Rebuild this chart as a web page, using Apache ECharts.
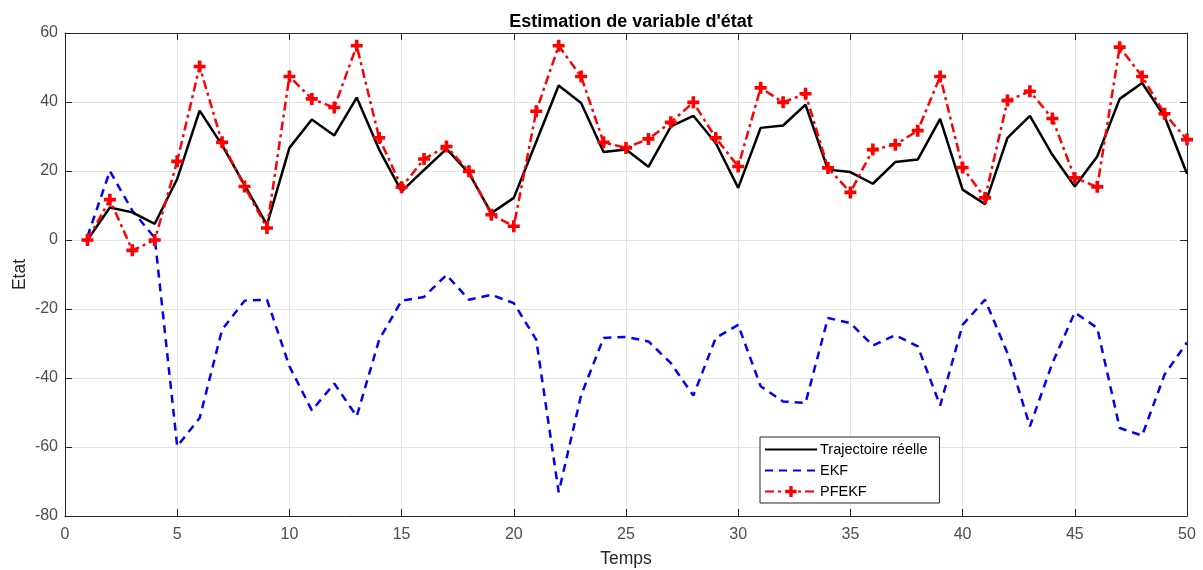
<!DOCTYPE html>
<html><head><meta charset="utf-8">
<script src="https://cdn.jsdelivr.net/npm/echarts@6/dist/echarts.min.js"></script>
<style>html,body{margin:0;padding:0;background:#fff}#c{width:1203px;height:570px}</style>
</head><body><div id="c"></div>
<script>
const temps = [1,2,3,4,5,6,7,8,9,10,11,12,13,14,15,16,17,18,19,20,21,22,23,24,25,26,27,28,29,30,31,32,33,34,35,36,37,38,39,40,41,42,43,44,45,46,47,48,49,50];
const reelle = [0,9.4,8.0,4.7,17.7,37.5,27.5,16,4.4,26.7,34.9,30.3,41.3,26.2,14.1,20.3,26.4,19.4,7.8,12.2,28.5,44.8,39.7,25.5,26.2,21.2,32.9,36.0,28.1,15.1,32.5,33.2,39.2,20.4,19.7,16.3,22.6,23.3,35.1,14.6,10.4,29.6,36.0,24.7,15.5,24.2,40.9,45.5,35.8,19.2];
const ekf = [1,20,8.5,0.6,-59.8,-51.6,-26,-17.6,-17.3,-36.6,-49.4,-41.6,-51.1,-28.9,-17.6,-16.5,-10.1,-17.3,-15.9,-18.3,-28.9,-73.1,-45,-28.4,-28.1,-29.4,-35.7,-45.1,-28.4,-24.6,-42.4,-46.8,-47.2,-22.6,-24.1,-30.6,-27.6,-30.8,-48,-24.6,-17.3,-32.8,-54,-35.7,-21,-25.5,-54.5,-56.7,-39,-29.7];
const pfekf = [0,11.7,-3.0,0,22.8,50.3,28.3,15.5,3.5,47.4,40.9,38.4,56.3,29.6,15.3,23.5,27.1,19.9,7.3,4.0,37.3,56.3,47.4,28.3,26.7,29.3,34.1,39.9,29.6,21.3,44.1,39.9,42.4,20.9,13.8,26.2,27.6,31.7,47.4,21.0,12.2,40.4,43.1,35.2,18.0,15.4,55.9,47.4,36.6,29.1];
const xTicks = {min:0, max:50, interval:5};
const yTicks = {min:-80, max:60, interval:20};
const names = ['Trajectoire réelle','EKF','PFEKF'];

const pair = arr => temps.map((t,i)=>[t,arr[i]]);
const plus = 'path://M3.5,0h3v3.5h3.5v3h-3.5v3.5h-3v-3.5h-3.5v-3h3.5z';
const axisCol = '#262626';
const FONT = 'Liberation Sans, Arial, sans-serif';
const labelStyle = {color:'#4d4d4d', fontSize:16, fontFamily:FONT};
const chart = echarts.init(document.getElementById('c'), null, {renderer:'canvas'});
chart.setOption({
  animation:false,
  backgroundColor:'#fff',
  title:{text:"Estimation de variable d'état", left:626, top:8, textAlign:'center',
    textStyle:{fontSize:18, fontWeight:'bold', color:'#000', fontFamily:FONT}},
  grid:{left:65, right:16, top:33, bottom:54, containLabel:false, outerBoundsMode:'none'},
  legend:{data:[
      {name:names[0], itemStyle:{opacity:0}},
      {name:names[1], itemStyle:{opacity:0}},
      {name:names[2]}
    ], orient:'vertical', left:760, top:437,
    backgroundColor:'#fff', borderColor:axisCol, borderWidth:1, borderRadius:0,
    padding:[5,12,4,4], itemWidth:52, itemHeight:14, itemGap:6,
    textStyle:{fontSize:14.5, color:'#000', fontFamily:FONT, padding:[0,0,0,-2]}},
  xAxis:[
    {type:'value', min:xTicks.min, max:xTicks.max, interval:xTicks.interval, position:'bottom',
     name:'Temps', nameLocation:'middle', nameGap:34, nameMoveOverlap:false, nameTextStyle:{fontSize:17.5, color:'#262626', fontFamily:FONT},
     axisLine:{onZero:false, lineStyle:{color:axisCol, width:1}}, axisTick:{inside:true, length:7, lineStyle:{color:axisCol}},
     axisLabel:Object.assign({margin:11}, labelStyle), splitLine:{show:true, lineStyle:{color:'#e3e3e3', width:1}}},
    {type:'value', min:xTicks.min, max:xTicks.max, interval:xTicks.interval, position:'top',
     axisLine:{onZero:false, lineStyle:{color:axisCol, width:1}}, axisTick:{inside:true, length:7, lineStyle:{color:axisCol}},
     axisLabel:{show:false}, splitLine:{show:false}}
  ],
  yAxis:[
    {type:'value', min:yTicks.min, max:yTicks.max, interval:yTicks.interval, position:'left',
     name:'Etat', nameLocation:'middle', nameGap:36, nameMoveOverlap:false, nameRotate:90, nameTextStyle:{fontSize:17.5, color:'#262626', fontFamily:FONT},
     axisLine:{show:true, onZero:false, lineStyle:{color:axisCol, width:1}}, axisTick:{show:true, inside:true, length:7, lineStyle:{color:axisCol}},
     axisLabel:Object.assign({margin:7}, labelStyle), splitLine:{show:true, lineStyle:{color:'#e3e3e3', width:1}}},
    {type:'value', min:yTicks.min, max:yTicks.max, interval:yTicks.interval, position:'right',
     axisLine:{show:true, onZero:false, lineStyle:{color:axisCol, width:1}}, axisTick:{show:true, inside:true, length:7, lineStyle:{color:axisCol}},
     axisLabel:{show:false}, splitLine:{show:false}}
  ],
  series:[
    {name:names[0], type:'line', data:pair(reelle), symbol:'none', showSymbol:false,
     lineStyle:{color:'#000', width:2.5}, itemStyle:{color:'#000'}, z:3},
    {name:names[1], type:'line', data:pair(ekf), symbol:'none', showSymbol:false,
     lineStyle:{color:'#0000ff', width:2.5, type:[8,6]}, itemStyle:{color:'#0000ff'}, z:2},
    {name:names[2], type:'line', data:pair(pfekf), symbol:plus, symbolSize:12,
     lineStyle:{color:'#ff0000', width:2.5, type:[9,4,3,4]}, itemStyle:{color:'#ff0000', borderWidth:0}, z:4}
  ]
});
</script></body></html>
